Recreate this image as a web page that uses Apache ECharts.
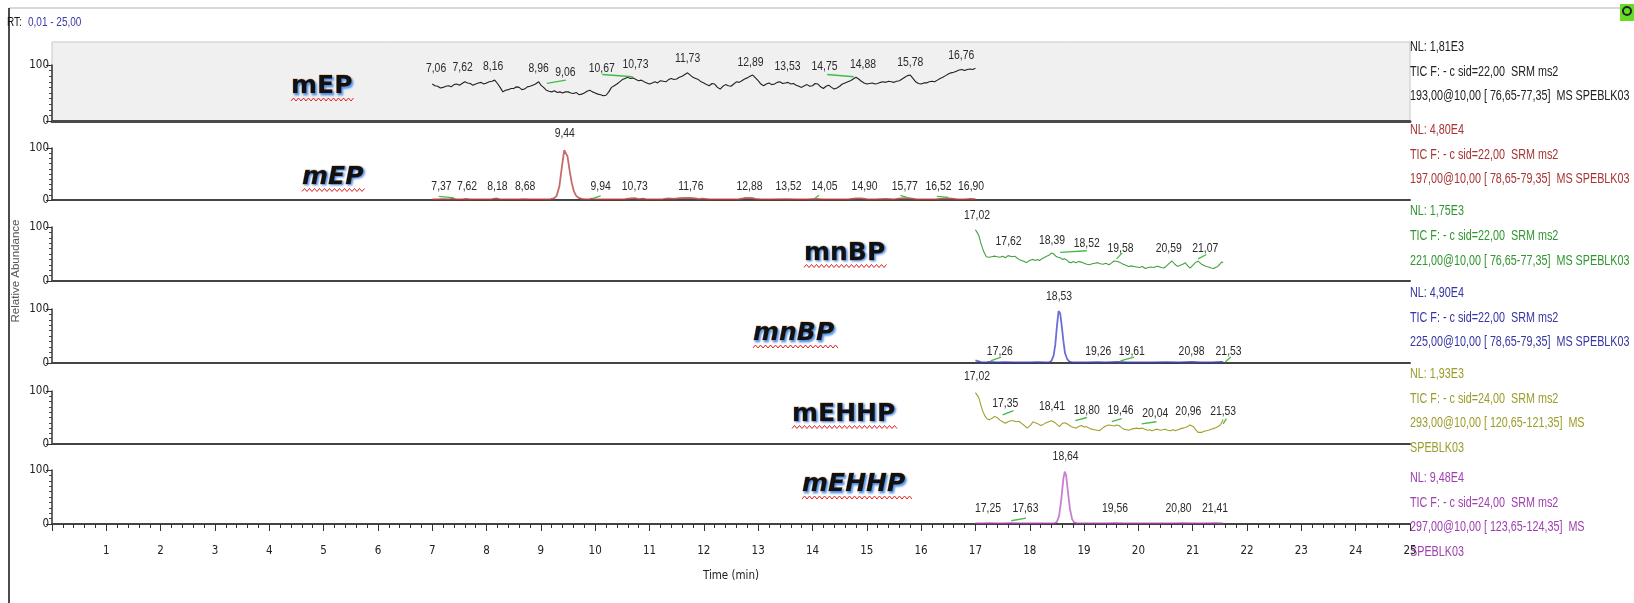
<!DOCTYPE html>
<html><head><meta charset="utf-8">
<script src="https://cdn.jsdelivr.net/npm/echarts@6/dist/echarts.min.js"></script>
<style>html,body{margin:0;padding:0;background:#fff}#c{width:1634px;height:603px}</style>
</head><body><div id="c"></div>
<script>
// ---------- DATA ----------
const timeTicks = [1,2,3,4,5,6,7,8,9,10,11,12,13,14,15,16,17,18,19,20,21,22,23,24,25];
const compounds = ['mEP','mEP','mnBP','mnBP','mEHHP','mEHHP'];

const mep193 = [[7.00,66],[7.05,63],[7.10,62],[7.15,59],[7.20,60],[7.25,62],[7.30,63],[7.35,61],[7.40,65],[7.45,66],[7.50,64],[7.55,67],[7.60,70],[7.65,68],[7.70,67],[7.75,64],[7.80,66],[7.85,68],[7.90,69],[7.95,66],[8.00,68],[8.05,70],[8.10,71],[8.15,73],[8.20,67],[8.25,60],[8.30,52],[8.35,55],[8.40,56],[8.45,58],[8.50,58],[8.55,61],[8.60,60],[8.65,56],[8.70,57],[8.75,61],[8.80,62],[8.85,64],[8.90,66],[8.96,70],[9.00,64],[9.05,60],[9.10,55],[9.15,53],[9.20,52],[9.25,54],[9.30,51],[9.35,52],[9.40,50],[9.45,52],[9.50,52],[9.55,50],[9.60,49],[9.65,51],[9.70,47],[9.75,48],[9.80,50],[9.85,53],[9.90,55],[9.95,52],[10.00,50],[10.05,48],[10.10,47],[10.15,45],[10.20,46],[10.25,52],[10.30,60],[10.35,63],[10.40,66],[10.45,70],[10.50,74],[10.55,76],[10.60,78],[10.65,76],[10.70,77],[10.75,74],[10.80,72],[10.85,73],[10.90,70],[10.95,68],[11.00,66],[11.05,68],[11.10,70],[11.15,68],[11.20,72],[11.25,71],[11.30,70],[11.35,74],[11.40,76],[11.45,74],[11.50,75],[11.55,78],[11.60,80],[11.65,83],[11.70,86],[11.75,82],[11.80,78],[11.85,76],[11.90,74],[11.95,70],[12.00,68],[12.05,65],[12.10,63],[12.15,67],[12.20,66],[12.25,60],[12.30,57],[12.35,62],[12.40,65],[12.45,63],[12.50,62],[12.55,66],[12.60,70],[12.65,69],[12.70,72],[12.75,75],[12.80,77],[12.85,80],[12.90,82],[12.95,77],[13.00,72],[13.05,66],[13.10,63],[13.15,66],[13.20,68],[13.25,65],[13.30,66],[13.35,69],[13.40,70],[13.45,67],[13.50,68],[13.55,69],[13.60,66],[13.65,67],[13.70,64],[13.75,62],[13.80,60],[13.85,63],[13.90,65],[13.95,62],[14.00,63],[14.05,67],[14.10,66],[14.15,61],[14.20,58],[14.25,62],[14.30,64],[14.35,60],[14.40,57],[14.45,59],[14.50,62],[14.55,66],[14.60,68],[14.65,70],[14.70,72],[14.75,75],[14.80,78],[14.85,75],[14.90,71],[14.95,68],[15.00,66],[15.05,67],[15.10,68],[15.15,66],[15.20,67],[15.25,69],[15.30,70],[15.35,69],[15.40,71],[15.45,70],[15.50,69],[15.55,71],[15.60,72],[15.65,75],[15.70,78],[15.75,81],[15.80,82],[15.85,76],[15.90,70],[15.95,67],[16.00,66],[16.05,68],[16.10,68],[16.15,70],[16.20,71],[16.25,70],[16.30,73],[16.35,76],[16.40,78],[16.45,81],[16.50,84],[16.55,86],[16.60,87],[16.65,89],[16.70,91],[16.75,92],[16.80,90],[16.85,92],[16.90,93],[16.95,92],[17.00,94]];

const mep197 = [[7.00,1],[7.10,1.2],[7.20,1.5],[7.30,1.2],[7.37,2.5],[7.45,1.2],[7.55,1],[7.62,2],[7.70,1.2],[7.80,1],[7.90,1.3],[8.00,1.2],[8.10,1.5],[8.18,3],[8.25,1.2],[8.35,1],[8.50,1.2],[8.60,1],[8.68,1.6],[8.80,1],[8.90,1.2],[9.00,1],[9.10,1.1],[9.18,1.5],[9.24,3],[9.29,8],[9.34,26],[9.39,66],[9.43,96],[9.46,98],[9.49,84],[9.53,56],[9.57,32],[9.61,16],[9.65,8],[9.70,4],[9.75,2],[9.82,1.2],[9.90,1.5],[9.94,2.5],[10.00,1.2],[10.10,1],[10.25,1.2],[10.40,1],[10.55,1.5],[10.65,3],[10.73,3.5],[10.80,1.5],[10.88,2.8],[10.95,1.2],[11.10,1],[11.25,1.5],[11.35,3],[11.45,2],[11.55,3.5],[11.65,3.8],[11.76,4],[11.85,3.2],[11.90,1.5],[11.98,2.6],[12.10,1.2],[12.30,1],[12.50,1],[12.65,1.8],[12.75,3.8],[12.88,4],[12.95,2],[13.05,1.2],[13.25,1],[13.52,1.5],[13.70,1],[13.90,1.2],[14.05,2],[14.20,1],[14.45,1],[14.65,1.2],[14.80,3],[14.90,3.2],[15.00,1.5],[15.15,1],[15.35,2],[15.50,1.2],[15.62,3],[15.77,3.5],[15.90,1.5],[16.05,1],[16.25,1.2],[16.40,2.5],[16.52,3.2],[16.65,1.5],[16.80,1.2],[16.90,2],[17.00,1.5]];

const mnbp221 = [[17.00,95],[17.02,97],[17.06,85],[17.10,70],[17.15,55],[17.20,45],[17.25,44],[17.30,45],[17.35,46],[17.40,45],[17.45,44],[17.50,46],[17.55,43],[17.60,47],[17.63,49],[17.68,45],[17.72,46],[17.76,43],[17.80,40],[17.85,38],[17.90,36],[17.94,34],[17.98,37],[18.02,39],[18.06,40],[18.10,38],[18.14,40],[18.18,38],[18.22,41],[18.26,43],[18.31,46],[18.36,48],[18.40,52],[18.44,50],[18.48,46],[18.52,44],[18.56,43],[18.60,40],[18.64,41],[18.68,39],[18.72,35],[18.76,34],[18.80,36],[18.85,34],[18.90,36],[18.95,35],[19.00,33],[19.05,31],[19.10,30],[19.15,32],[19.20,33],[19.25,34],[19.30,32],[19.35,31],[19.40,33],[19.46,30],[19.50,33],[19.55,37],[19.58,40],[19.62,36],[19.67,34],[19.72,31],[19.77,29],[19.82,27],[19.87,28],[19.92,27],[19.97,26],[20.02,25],[20.07,27],[20.13,23],[20.18,25],[20.23,26],[20.28,25],[20.33,27],[20.37,27],[20.42,25],[20.47,24],[20.52,28],[20.57,33],[20.62,37],[20.67,31],[20.72,27],[20.77,29],[20.82,31],[20.86,34],[20.91,28],[20.95,24],[21.00,29],[21.05,34],[21.10,37],[21.15,32],[21.20,29],[21.25,27],[21.29,26],[21.34,24],[21.38,23],[21.41,24],[21.46,27],[21.50,31],[21.53,35],[21.56,34]];

const mnbp225 = [[17.00,5],[17.02,7],[17.06,3],[17.10,1.5],[17.20,1.2],[17.26,2],[17.40,1.2],[17.55,1.5],[17.70,1],[17.85,1.2],[18.00,1],[18.15,1.5],[18.28,1],[18.36,1.5],[18.40,4],[18.44,14],[18.47,34],[18.50,68],[18.53,96],[18.56,92],[18.59,68],[18.62,40],[18.65,18],[18.69,7],[18.73,2.5],[18.78,1.2],[18.90,1],[19.05,1.2],[19.26,1.5],[19.40,1],[19.61,2],[19.80,1],[20.00,1.2],[20.25,1],[20.50,1.5],[20.75,1],[20.98,2],[21.15,1],[21.35,1.2],[21.53,2],[21.56,1.5]];

const mehhp293 = [[17.00,97],[17.03,100],[17.06,88],[17.09,77],[17.13,63],[17.18,52],[17.22,47],[17.26,46],[17.30,48],[17.35,52],[17.40,50],[17.45,45],[17.50,42],[17.55,39],[17.60,42],[17.65,44],[17.70,44],[17.75,42],[17.80,43],[17.85,39],[17.90,35],[17.95,30],[17.98,28],[18.02,36],[18.06,42],[18.10,40],[18.15,38],[18.20,35],[18.25,37],[18.30,40],[18.35,42],[18.40,44],[18.43,45],[18.47,40],[18.51,36],[18.55,33],[18.59,38],[18.63,40],[18.67,39],[18.72,36],[18.76,33],[18.81,31],[18.86,30],[18.90,33],[18.95,35],[19.00,32],[19.04,33],[19.09,30],[19.14,28],[19.19,27],[19.24,26],[19.28,25],[19.33,29],[19.38,33],[19.42,35],[19.46,36],[19.51,35],[19.56,34],[19.60,36],[19.64,35],[19.69,31],[19.73,28],[19.78,27],[19.82,26],[19.87,28],[19.92,29],[19.97,30],[20.02,29],[20.07,30],[20.12,28],[20.17,26],[20.21,27],[20.25,25],[20.30,27],[20.35,28],[20.40,26],[20.45,27],[20.49,28],[20.54,26],[20.59,25],[20.64,27],[20.68,25],[20.73,27],[20.78,29],[20.82,30],[20.86,31],[20.91,33],[20.95,36],[20.98,37],[21.02,32],[21.06,26],[21.10,22],[21.13,21],[21.17,22],[21.21,24],[21.25,25],[21.29,26],[21.34,28],[21.38,29],[21.43,31],[21.47,33],[21.51,36],[21.54,42],[21.56,46]];

const mehhp297 = [[17.00,1],[17.12,1.3],[17.25,1.6],[17.40,1],[17.52,1.2],[17.63,1.6],[17.80,1],[17.95,1.2],[18.10,1],[18.25,1.2],[18.38,1],[18.46,1.5],[18.50,4],[18.54,15],[18.58,45],[18.62,85],[18.645,97],[18.67,90],[18.70,62],[18.74,28],[18.78,9],[18.82,3],[18.86,1.2],[19.00,1],[19.20,1.2],[19.40,1],[19.56,1.5],[19.75,1],[20.00,1.2],[20.25,1],[20.50,1.2],[20.65,1],[20.80,1.5],[21.00,1],[21.20,1.2],[21.41,1.5],[21.56,1]];

// peak labels: [peak time (text), label time position, label height %]
const labels193 = [[7.06,7.07,94],[7.62,7.56,96],[8.16,8.12,97],[8.96,8.96,93],[9.06,9.45,86],[10.67,10.12,94],[10.73,10.74,101],[11.73,11.70,112],[12.89,12.86,104],[13.53,13.54,97],[14.75,14.22,97],[14.88,14.93,101],[15.78,15.80,104],[16.76,16.74,117]];
const labels197 = [[7.37,7.17,26],[7.62,7.64,26],[8.18,8.20,26],[8.68,8.71,26],[9.44,9.44,128],[9.94,10.10,26],[10.73,10.73,26],[11.76,11.76,26],[12.88,12.84,26],[13.52,13.56,26],[14.05,14.22,26],[14.90,14.96,26],[15.77,15.70,26],[16.52,16.32,26],[16.90,16.92,26]];
const labels221 = [[17.02,17.03,122],[17.62,17.61,73],[18.39,18.41,75],[18.52,19.05,70],[19.58,19.67,61],[20.59,20.56,61],[21.07,21.23,61]];
const labels225 = [[17.26,17.45,22],[18.53,18.54,123],[19.26,19.26,22],[19.61,19.88,22],[20.98,20.98,22],[21.53,21.66,22]];
const labels293 = [[17.02,17.03,127],[17.35,17.55,77],[18.41,18.41,70],[18.80,19.05,64],[19.46,19.67,64],[20.04,20.31,58],[20.96,20.92,61],[21.53,21.56,61]];
const labels297 = [[17.25,17.23,28],[17.63,17.92,28],[18.64,18.66,126],[19.56,19.57,28],[20.80,20.74,28],[21.41,21.41,28]];

// green label leader marks: [t1, y1, t2, y2]
const marks193 = [[9.11,67,9.46,73],[10.13,83,10.69,79],[14.27,83,14.76,79]];
const marks197 = [[7.12,7,7.40,4],[9.96,3,10.10,8],[14.04,3,14.12,9],[15.62,9,15.76,4],[16.29,7,16.50,5]];
const marks221 = [[18.56,53,19.05,56],[19.60,41,19.70,52],[21.10,41,21.25,49]];
const marks225 = [[17.28,4,17.47,11],[19.67,4,19.92,11],[21.60,2,21.70,11]];
const marks293 = [[17.50,55,17.70,63],[18.84,44,19.05,50],[19.51,42,19.69,48],[20.06,38,20.33,42],[21.56,38,21.62,48]];
const marks297 = [[17.66,6,17.93,11]];

// right-hand trace headers
const headers = [
  ['NL: 1,81E3','TIC F: - c sid=22,00  SRM ms2','193,00@10,00 [ 76,65-77,35]  MS SPEBLK03'],
  ['NL: 4,80E4','TIC F: - c sid=22,00  SRM ms2','197,00@10,00 [ 78,65-79,35]  MS SPEBLK03'],
  ['NL: 1,75E3','TIC F: - c sid=22,00  SRM ms2','221,00@10,00 [ 76,65-77,35]  MS SPEBLK03'],
  ['NL: 4,90E4','TIC F: - c sid=22,00  SRM ms2','225,00@10,00 [ 78,65-79,35]  MS SPEBLK03'],
  ['NL: 1,93E3','TIC F: - c sid=24,00  SRM ms2','293,00@10,00 [ 120,65-121,35]  MS','SPEBLK03'],
  ['NL: 9,48E4','TIC F: - c sid=24,00  SRM ms2','297,00@10,00 [ 123,65-124,35]  MS','SPEBLK03']
];

// ---------- STYLE / LAYOUT ----------
const FONT = "'Liberation Sans Narrow','DejaVu Sans Condensed','Liberation Sans',Arial,sans-serif";
const HFONT = "'Liberation Sans', Arial, sans-serif";
const LEFT = 52, WIDTH = 1358;
const BASE = [121, 200, 281, 363, 444, 524];
const HGT = [56, 52, 54, 54, 53, 54];
const HEAD_Y = [47, 130, 211.5, 293, 374, 478];
const HEAD_DY = 24.8;
const headColor = ['#222222','#a83434','#2f962f','#3535a5','#9c9c2a','#a040b0'];
const grad = (top, bottom) => ({type:'linear',x:0,y:0,x2:0,y2:1,colorStops:[
  {offset:0,color:top},{offset:0.93,color:top},{offset:0.975,color:bottom},{offset:1,color:bottom}]});
const traceColor = ['#222222', grad('#c86a6a','#8a1c1c'), '#45a045', grad('#6d6dd8','#1e1e80'), '#a0a02c', grad('#c880d0','#6a1470')];
const traces = [mep193, mep197, mnbp221, mnbp225, mehhp293, mehhp297];
const labelSets = [labels193, labels197, labels221, labels225, labels293, labels297];
const markSets = [marks193, marks197, marks221, marks225, marks293, marks297];
// compound title layout: [left x, center y, width, italic]
const titleBox = [[291,86.5,64,false],[302,177,64,true],[804,253,84,false],[753,333.5,86,true],[792,414,106,false],[802,484.5,112,true]];
const fmt = v => v.toFixed(2).replace('.', ',');

const grids = [{left:LEFT, width:WIDTH, top:42, height:BASE[0]-42, show:true, backgroundColor:'#f0f0f0', borderColor:'#c8c8c8', borderWidth:1}];
const xAxes = [{gridIndex:0, type:'value', min:0, max:25, show:false}];
const yAxes = [{gridIndex:0, type:'value', min:0, max:100, show:false}];
const series = [];

for (let p = 0; p < 6; p++) {
  const g = p + 1;
  grids.push({left:LEFT, width:WIDTH, top:BASE[p]-HGT[p], height:HGT[p]});
  const bottom = p === 5;
  xAxes.push({
    gridIndex:g, type:'value', min:0, max:25, interval:1,
    axisLine:{show:true, onZero:false, lineStyle:{color: p===0 ? '#4a4a4a' : '#444', width: p===0 ? 3 : 2}},
    axisTick:{show:bottom, length:7, lineStyle:{color:'#333', width:1}},
    minorTick:{show:bottom, splitNumber:5, length:4, lineStyle:{color:'#333', width:1}},
    axisLabel:{show:bottom, margin:21, color:'#222', fontSize:11.5, fontFamily:FONT,
      formatter: v => (timeTicks.indexOf(v) >= 0 ? String(v) : '')},
    splitLine:{show:false},
    name: bottom ? 'Time (min)' : '', nameLocation:'middle', nameGap:46,
    nameTextStyle:{color:'#222', fontSize:11.5, fontFamily:FONT}
  });
  yAxes.push({
    gridIndex:g, type:'value', min:0, max:100, interval:100,
    axisLine:{show:true, lineStyle:{color:'#333', width:1.5}},
    axisTick:{show:true, length:6, lineStyle:{color:'#333'}},
    minorTick:{show:true, splitNumber:10, length:3, lineStyle:{color:'#444'}},
    axisLabel:{show:true, margin:3, color:'#222', fontSize:11.5, fontFamily:FONT},
    splitLine:{show:false}
  });
  series.push({
    type:'line', xAxisIndex:g, yAxisIndex:g, data:traces[p], symbol:'none', showSymbol:false,
    lineStyle:{color:traceColor[p], width: (p%2===1) ? 1.8 : 1.1}, z:3, silent:true
  });
  series.push({
    type:'lines', coordinateSystem:'cartesian2d', xAxisIndex:g, yAxisIndex:g, silent:true, z:4,
    data: markSets[p].map(m => ({coords:[[m[0],m[1]],[m[2],m[3]]]})),
    lineStyle:{color:'#44bb44', width:1.3, opacity:1}
  });
  series.push({
    type:'custom', xAxisIndex:g, yAxisIndex:g, silent:true, z:5, clip:false,
    data: labelSets[p].map(l => [l[1], l[2], l[0]]),
    renderItem: (params, api) => {
      const pt = api.coord([api.value(0), api.value(1)]);
      return {type:'text', x:pt[0], y:pt[1], scaleX:0.8,
        style:{text: fmt(api.value(2)), fill:'#2a2a2a', fontSize:13, fontFamily:HFONT, align:'center', verticalAlign:'middle'}};
    }
  });
}

// graphic: headers, compound titles, frame
const graphic = [];
graphic.push({type:'line', shape:{x1:9, y1:8, x2:1634, y2:8}, style:{stroke:'#b0b0b0', lineWidth:1}});
graphic.push({type:'line', shape:{x1:9, y1:8, x2:9, y2:603}, style:{stroke:'#111', lineWidth:1.5}});
graphic.push({type:'text', x:7, y:23, scaleX:0.8, style:{text:'RT:', fill:'#111', fontSize:12.5, fontFamily:HFONT, verticalAlign:'middle'}});
graphic.push({type:'text', x:28, y:23, scaleX:0.8, style:{text:'0,01 - 25,00', fill:'#3a3aaa', fontSize:12.5, fontFamily:HFONT, verticalAlign:'middle'}});
graphic.push({type:'rect', shape:{x:1620, y:4, width:14, height:17}, style:{fill:'#66dd22'}});
graphic.push({type:'circle', shape:{cx:1627, cy:11, r:4}, style:{fill:'none', stroke:'#222', lineWidth:2}});
graphic.push({type:'text', x:16, y:271, rotation:Math.PI/2, style:{text:'Relative Abundance', fill:'#555', fontSize:11.5, fontFamily:HFONT, align:'center', verticalAlign:'middle'}});
for (let p = 0; p < 6; p++) {
  headers[p].forEach((t, i) => {
    graphic.push({type:'text', x:1410, y:HEAD_Y[p] + i*HEAD_DY, scaleX:0.77,
      style:{text:t, fill:headColor[p], fontSize:14, fontFamily:HFONT, verticalAlign:'middle'}});
  });
  const [tx, ty, tw, it] = titleBox[p];
  graphic.push({type:'text', x:tx, y:ty, z:10, style:{text:compounds[p], fill:'#111', fontSize:25, fontWeight:'bold',
    fontStyle: it ? 'italic' : 'normal', fontFamily:"'DejaVu Sans', sans-serif", verticalAlign:'middle',
    textShadowColor:'rgba(40,120,230,0.8)', textShadowBlur:2, textShadowOffsetX:1.5, textShadowOffsetY:1.5,
    stroke:'rgba(235,140,40,0.6)', lineWidth:0.8}});
  const pts = [];
  const uy = ty + 13;
  for (let x = 0, k = 0; x <= tw; x += 2.5, k++) pts.push([tx + x, uy + (k % 2 ? -1.5 : 1.5)]);
  graphic.push({type:'polyline', z:10, shape:{points:pts}, style:{stroke:'#e02222', lineWidth:1, fill:null}});
}

const chart = echarts.init(document.getElementById('c'), null, {renderer:'canvas'});
chart.setOption({animation:false, backgroundColor:'#fff', grid:grids, xAxis:xAxes, yAxis:yAxes, series:series, graphic:graphic});
</script></body></html>
